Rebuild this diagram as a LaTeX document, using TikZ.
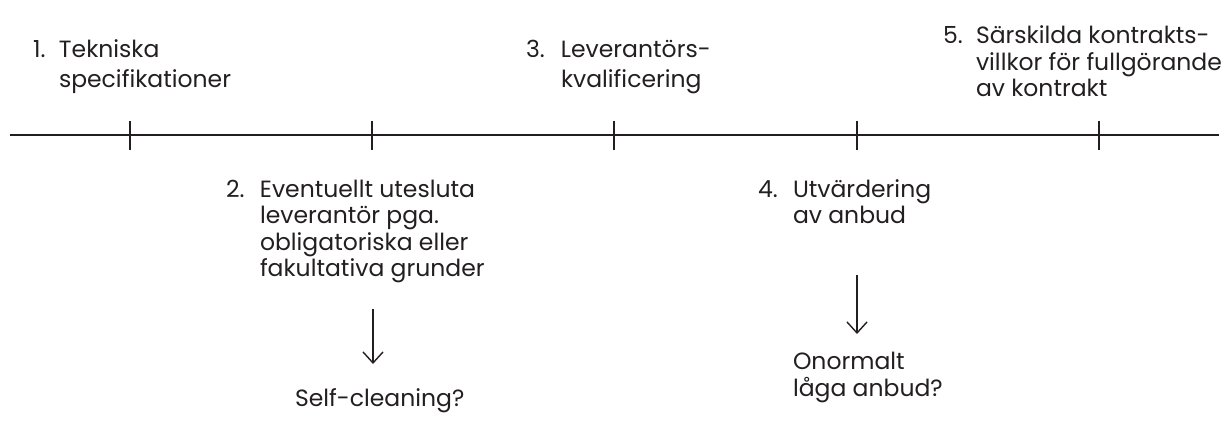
\documentclass[tikz,border=0pt]{standalone}
\usepackage{fontspec}
\setmainfont{Poppins}
\usetikzlibrary{arrows.meta}
\definecolor{ink}{HTML}{231F20}
\tikzset{
  lbl/.style={anchor=base west, inner sep=0pt, outer sep=0pt, text=ink,
    font=\fontsize{23.5}{26.5}\selectfont, align=left},
  axis/.style={draw=ink, line width=1.4pt},
  tick/.style={draw=ink, line width=1.4pt},
  arr/.style={draw=ink, line width=1.4pt, -{Straight Barb[length=11pt,width=20pt,line width=1.4pt]}},
}
\begin{document}
\begin{tikzpicture}[x=1pt,y=-1pt]
\useasboundingbox (0,0) rectangle (1226,433);
% axis
\coordinate (L) at (10,135);
\coordinate (R) at (1219,135);
\draw[axis] (L) -- (R);
\foreach \x [count=\i] in {130,372,614,857,1099}{
  \coordinate (t\i a) at (\x,121);
  \coordinate (t\i b) at (\x,150);
  \draw[tick] (t\i a) -- (t\i b);
}
% labels
\node[lbl] (n1) at (33,58) {\begin{tabular}[t]{@{}p{26pt}@{}l@{}}1. & Tekniska\\[3pt] & specifikationer\end{tabular}};
\node[lbl] (n2) at (226,197) {\begin{tabular}[t]{@{}p{34pt}@{}l@{}}2. & Eventuellt utesluta\\ & leverantör pga.\\ & obligatoriska eller\\ & fakultativa grunder\end{tabular}};
\node[lbl] (n3) at (526,58) {\begin{tabular}[t]{@{}p{35pt}@{}l@{}}3. & Leverantörs-\\[3pt] & kvalificering\end{tabular}};
\node[lbl] (n4) at (758,197) {\begin{tabular}[t]{@{}p{35pt}@{}l@{}}4. & Utvärdering\\ & av anbud\end{tabular}};
\node[lbl] (n5) at (943,44) {\begin{tabular}[t]{@{}p{33pt}@{}l@{}}5. & Särskilda kontrakts-\\ & villkor för fullgörande\\ & av kontrakt\end{tabular}};
\node[lbl] (s) at (295,406) {Self-cleaning?};
\node[lbl] (o) at (793,369) {\begin{tabular}[t]{@{}l@{}}Onormalt\\ låga anbud?\end{tabular}};
% arrows
\coordinate (a1s) at (373,309);
\coordinate (a1e) at (373,364);
\coordinate (a2s) at (857,275);
\coordinate (a2e) at (857,334);
\draw[arr] (a1s) -- (a1e);
\draw[arr] (a2s) -- (a2e);
\end{tikzpicture}
\end{document}
